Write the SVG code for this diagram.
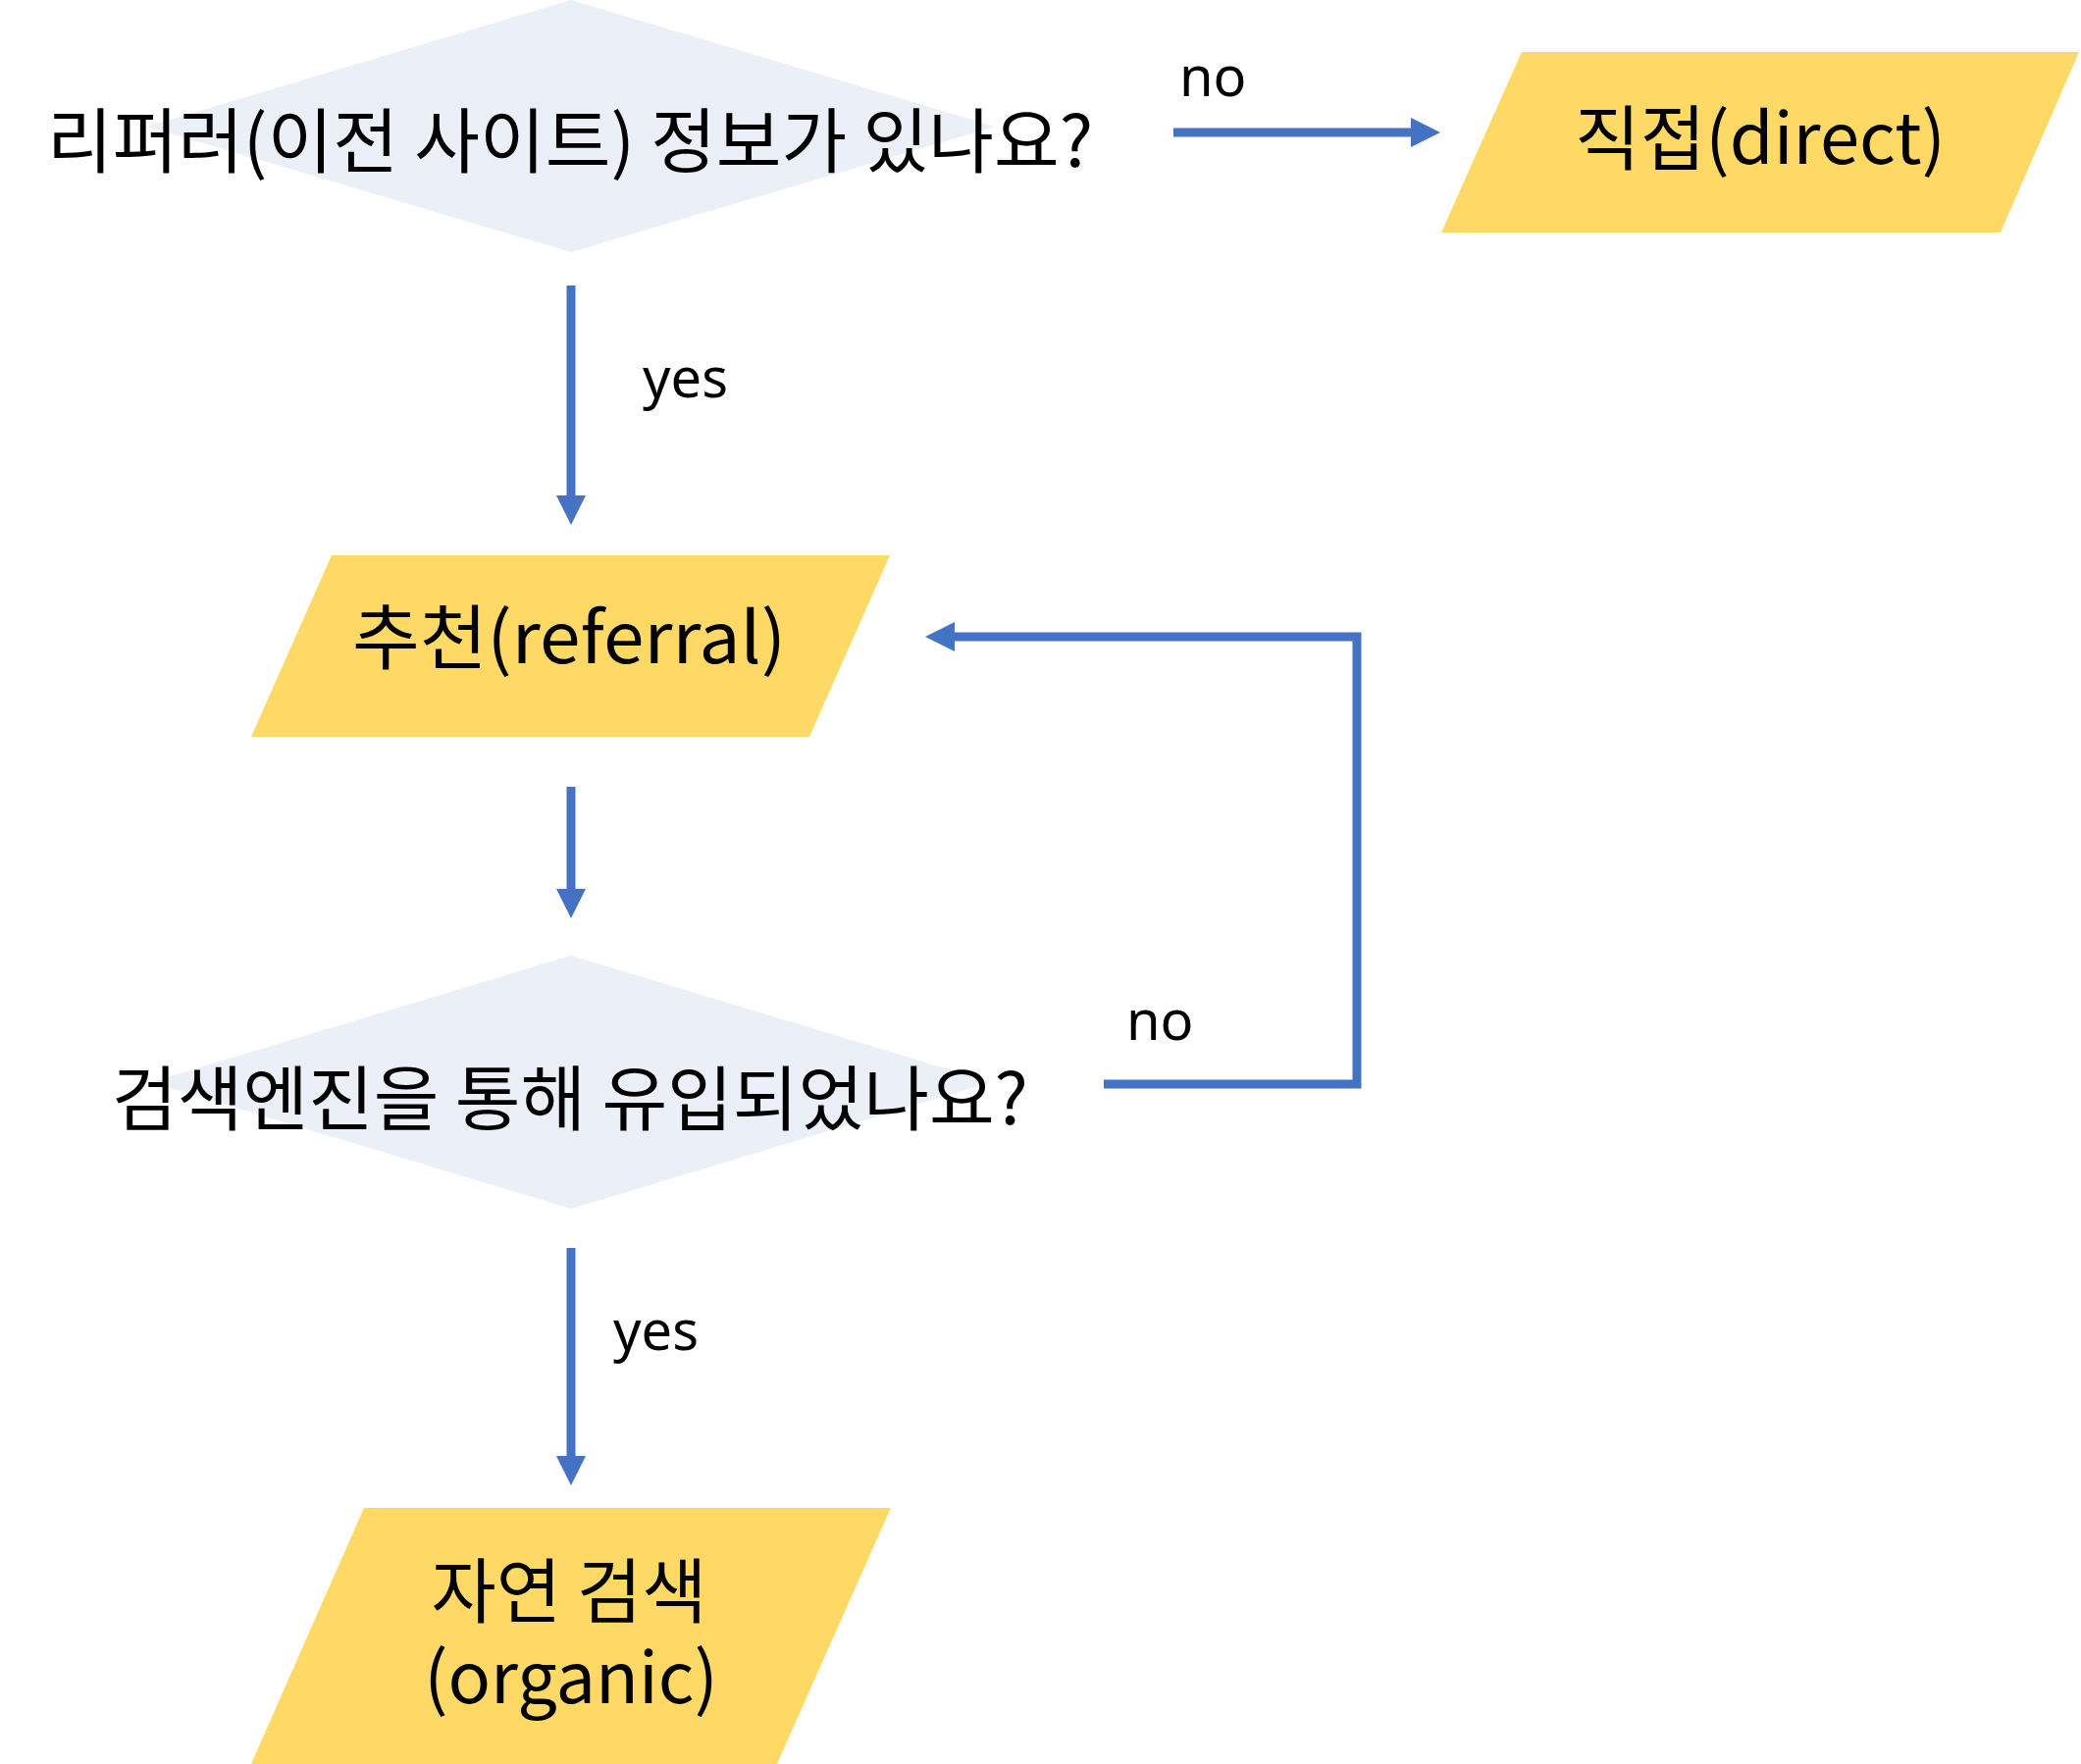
<svg xmlns="http://www.w3.org/2000/svg" width="2121" height="1798" viewBox="0 0 2121 1798">
<style>
.dec{fill:#EAEFF8}
.io{fill:#FFD966}
.t{font-family:"Noto Sans CJK KR","Noto Sans",sans-serif;font-size:72px;fill:#000;text-anchor:middle}
.lbl{font-family:"Noto Sans","Noto Sans CJK KR",sans-serif;font-size:56px;fill:#000}
.c{fill:none;stroke:#4472C4;stroke-width:9}
</style>
<defs>
<marker id="ah" markerUnits="userSpaceOnUse" markerWidth="30" markerHeight="30" refX="0" refY="15" orient="auto" viewBox="0 0 30 30"><path d="M0,0L30,15L0,30z" fill="#4472C4"/></marker>
</defs>
<rect width="2121" height="1798" fill="#fff"/>
<g id="connectors">
<path class="c" d="M1196,135H1438" marker-end="url(#ah)"/>
<path class="c" d="M582,291V505" marker-end="url(#ah)"/>
<path class="c" d="M582,802V906" marker-end="url(#ah)"/>
<path class="c" d="M1125,1105H1383V649H973" marker-end="url(#ah)"/>
<path class="c" d="M582,1272V1484" marker-end="url(#ah)"/>
<text class="lbl" x="1202" y="98">no</text>
<text class="lbl" x="655" y="405">yes</text>
<text class="lbl" x="1148" y="1060">no</text>
<text class="lbl" x="625" y="1376">yes</text>
</g>
<g id="q1">
<polygon class="dec" points="582,0 1014,129 582,257 150,129"/>
<text class="t" x="581" y="170" textLength="1066" lengthAdjust="spacingAndGlyphs">리퍼러(이전 사이트) 정보가 있나요?</text>
</g>
<g id="direct">
<polygon class="io" points="1551,53 2119,53 2039,237 1469,237"/>
<text class="t" x="1794" y="167" textLength="378" lengthAdjust="spacingAndGlyphs">직접(direct)</text>
</g>
<g id="referral">
<polygon class="io" points="338,566 907,566 825,751 256,751"/>
<text class="t" x="580" y="676" textLength="442" lengthAdjust="spacingAndGlyphs">추천(referral)</text>
</g>
<g id="q2">
<polygon class="dec" points="582,974 1010,1103 582,1232 154,1103"/>
<text class="t" x="581" y="1146" textLength="934" lengthAdjust="spacingAndGlyphs">검색엔진을 통해 유입되었나요?</text>
</g>
<g id="organic">
<polygon class="io" points="371,1537 908,1537 792,1798 256,1798"/>
<text class="t"><tspan x="580" y="1648">자연 검색</tspan><tspan x="582" y="1736">(organic)</tspan></text>
</g>
</svg>
